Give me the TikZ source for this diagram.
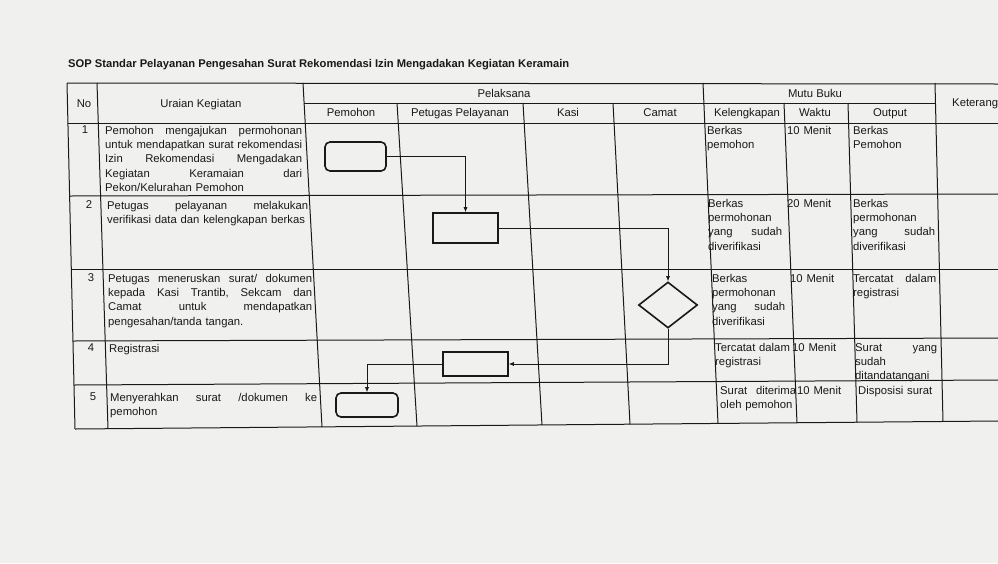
\documentclass[tikz,border=0pt]{standalone}
\usepackage{fontspec}
\setmainfont{Liberation Sans}
\usetikzlibrary{shapes.geometric, arrows.meta}
\definecolor{kertas}{RGB}{240,240,239}
\definecolor{tinta}{RGB}{25,25,25}
\setlength{\parindent}{0pt}

\begin{document}
\begin{tikzpicture}[x=1pt, y=-1pt,
    every node/.style={inner sep=0pt, text=tinta, font=\fontsize{11.3}{14.4}\selectfont},
    garis/.style={draw=tinta, line width=1pt},
    kepala/.style={text height=8.5pt, text depth=2.5pt},
    isi/.style={anchor=base west, align=left, text width=#1},
    isi/.default=80pt,
    terminal/.style={draw=tinta, line width=1.6pt, rounded corners=5pt, minimum width=62pt, minimum height=24pt},
    proses/.style={draw=tinta, line width=1.6pt, minimum width=65pt, minimum height=24pt},
    keputusan/.style={draw=tinta, line width=1.6pt, diamond, minimum width=59pt, minimum height=46pt},
    alur/.style={draw=tinta, line width=0.7pt, -{Latex[length=5pt, width=4pt]}}]
  \fill[kertas] (0,0) rectangle (998,563);
  \useasboundingbox (0,0) rectangle (998,563);
  \clip (0,0) rectangle (998,563);

  \node[anchor=base west, font=\fontsize{11.2}{14}\selectfont\bfseries] (judul) at (68,67)
    {SOP Standar Pelayanan Pengesahan Surat Rekomendasi Izin Mengadakan Kegiatan Keramain};

  % garis tabel
  \draw[garis] (67,83) -- (998,84);
  \draw[garis] (304,103) -- (935.5,103);
  \draw[garis] (67.9,123) -- (998,123);
  \draw[garis] (69.6,196) -- (998,194);
  \draw[garis] (71.3,269) -- (998,269);
  \draw[garis] (73,341) -- (998,338);
  \draw[garis] (74,385) -- (998,380);
  \draw[garis] (75,429) -- (998,421);
  \draw[garis] (67,83) -- (75,429);
  \draw[garis] (97,83) -- (108,428.7);
  \draw[garis] (303,83) -- (322,427);
  \draw[garis] (397,103) -- (417,426.2);
  \draw[garis] (523,103) -- (542,425.2);
  \draw[garis] (613,103) -- (630,424.5);
  \draw[garis] (703,83) -- (718,423.8);
  \draw[garis] (784,103) -- (797,423.2);
  \draw[garis] (848,103) -- (857,422.7);
  \draw[garis] (935,83) -- (943,422);

  % kepala tabel
  \node[kepala] (hNo) at (84,104) {No};
  \node[kepala] (hUraian) at (201,104) {Uraian Kegiatan};
  \node[kepala] (hPelaksana) at (504,94) {Pelaksana};
  \node[kepala] (hPemohon) at (351,113) {Pemohon};
  \node[kepala] (hPetugas) at (460,113) {Petugas Pelayanan};
  \node[kepala] (hKasi) at (568,113) {Kasi};
  \node[kepala] (hCamat) at (660,113) {Camat};
  \node[kepala] (hMutu) at (815,94) {Mutu Buku};
  \node[kepala] (hLengkap) at (747,113) {Kelengkapan};
  \node[kepala] (hWaktu) at (815,113) {Waktu};
  \node[kepala] (hOutput) at (890,113) {Output};
  \node[kepala, anchor=west] (hKet) at (952,103) {Keterangan};

  % nomor
  \node[kepala] (no1) at (85,130) {1};
  \node[kepala] (no2) at (89,205) {2};
  \node[kepala] (no3) at (91,278) {3};
  \node[kepala] (no4) at (91,348) {4};
  \node[kepala] (no5) at (93,397) {5};

  % uraian kegiatan
  \node[isi=197pt] (ur1) at (105,134) {Pemohon\hfill mengajukan\hfill permohonan\\
    untuk\hfill mendapatkan\hfill surat\hfill rekomendasi\\ Izin\hfill Rekomendasi\hfill Mengadakan\\
    Kegiatan\hfill Keramaian\hfill dari\\ Pekon/Kelurahan Pemohon};
  \node[isi=201pt] (ur2) at (107,209) {Petugas\hfill pelayanan\hfill melakukan\\
    verifikasi data dan kelengkapan berkas};
  \node[isi=204pt] (ur3) at (108,282) {Petugas\hfill meneruskan\hfill surat/\hfill dokumen\\
    kepada\hfill Kasi\hfill Trantib,\hfill Sekcam\hfill dan\\ Camat\hfill untuk\hfill mendapatkan\\
    pengesahan/tanda tangan.};
  \node[isi=200pt] (ur4) at (109,352) {Registrasi};
  \node[isi=207pt] (ur5) at (110,401) {Menyerahkan\hfill surat\hfill /dokumen\hfill ke\\ pemohon};

  % kelengkapan
  \node[isi=75pt] (kl1) at (707,134) {Berkas\\ pemohon};
  \node[isi=74pt] (kl2) at (708,207) {Berkas\\ permohonan\\ yang\hfill sudah\\ diverifikasi};
  \node[isi=73pt] (kl3) at (712,282) {Berkas\\ permohonan\\ yang\hfill sudah\\ diverifikasi};
  \node[isi=80pt] (kl4) at (715,351) {Tercatat dalam\\ registrasi};
  \node[isi=76pt] (kl5) at (720,394) {Surat\hfill diterima\\ oleh pemohon};

  % waktu
  \node[isi=60pt] (wk1) at (787,134) {10 Menit};
  \node[isi=60pt] (wk2) at (787,207) {20 Menit};
  \node[isi=60pt] (wk3) at (790,282) {10 Menit};
  \node[isi=60pt] (wk4) at (792,351) {10 Menit};
  \node[isi=60pt] (wk5) at (797,394) {10 Menit};

  % output
  \node[isi=80pt] (out1) at (853,134) {Berkas\\ Pemohon};
  \node[isi=82pt] (out2) at (853,207) {Berkas\\ permohonan\\ yang\hfill sudah\\ diverifikasi};
  \node[isi=83pt] (out3) at (853,282) {Tercatat\hfill dalam\\ registrasi};
  \node[isi=82pt] (out4) at (855,351) {Surat\hfill yang\\ sudah\\ ditandatangani};
  \node[isi=80pt] (out5) at (858,394) {Disposisi surat};

  % diagram alir
  \node[terminal, minimum width=61pt, minimum height=29pt] (ajukan) at (355.5,156.5) {};
  \node[proses, minimum height=30pt] (verifikasi) at (465.5,228) {};
  \node[keputusan] (sahkan) at (668,305) {};
  \node[proses] (registrasi) at (475.5,364) {};
  \node[terminal] (serahkan) at (367,405) {};
  \draw[alur] (ajukan.east) -| (verifikasi.north);
  \draw[alur] (verifikasi.east) -| (sahkan.north);
  \draw[alur] (sahkan.south) |- (registrasi.east);
  \draw[alur] (registrasi.west) -| (serahkan.north);
\end{tikzpicture}
\end{document}
